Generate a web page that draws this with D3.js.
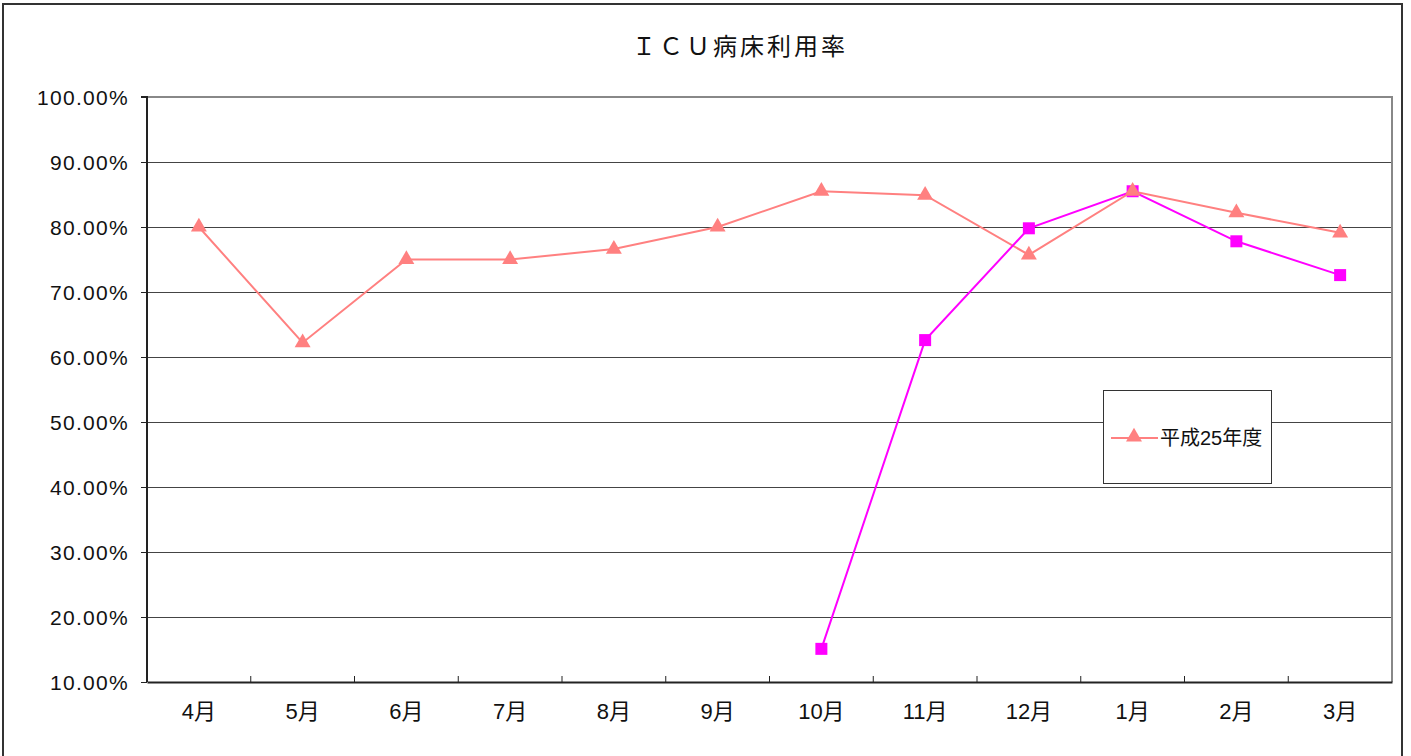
<!DOCTYPE html>
<html>
<head>
<meta charset="utf-8">
<script src="https://cdn.jsdelivr.net/npm/d3@7"></script>
<style>
  body { margin: 0; background: #fff; }
  svg { display: block; }
</style>
</head>
<body>
<svg id="chart" width="1411" height="756"></svg>
<script>
// chart data
var months = ["4月","5月","6月","7月","8月","9月","10月","11月","12月","1月","2月","3月"];
var h25 = [80.0, 62.2, 75.0, 75.0, 76.6, 80.0, 85.5, 84.9, 75.7, 85.5, 82.2, 79.1];
var h26 = [null, null, null, null, null, null, 15.1, 62.6, 79.8, 85.5, 77.8, 72.6];
var yTicks = [10,20,30,40,50,60,70,80,90,100];
var legendLabel = "平成25年度";
var title = "ＩＣＵ病床利用率";

(function(){
var svg = d3.select("#chart");
var jp = "'Liberation Sans', 'Noto Sans CJK JP', sans-serif";

// outer frame
svg.append("path")
  .attr("d", "M3,760 V4 H1402 V760")
  .attr("fill", "none").attr("stroke", "#333").attr("stroke-width", 2);

var pLeft = 147, pRight = 1392, pTop = 97, pBottom = 682;

var x = d3.scaleBand().domain(months).range([pLeft, pRight]);
var y = d3.scaleLinear().domain([10, 100]).range([pBottom, pTop]);

// gridlines
svg.append("g").selectAll("line").data(yTicks.slice(1, -1)).join("line")
  .attr("x1", pLeft).attr("x2", pRight)
  .attr("y1", function(d){ return y(d) + 0.5; }).attr("y2", function(d){ return y(d) + 0.5; })
  .attr("stroke", "#444").attr("stroke-width", 1);

// plot frame top/right (gray)
svg.append("path")
  .attr("d", "M" + pLeft + "," + pTop + " H" + pRight + " V" + pBottom)
  .attr("fill", "none").attr("stroke", "#888").attr("stroke-width", 2);

// y axis
var yAxis = svg.append("g")
  .attr("transform", "translate(" + pLeft + ",0)")
  .call(d3.axisLeft(y).tickValues(yTicks).tickSize(6).tickPadding(12)
    .tickFormat(function(d){ return d.toFixed(2) + "%"; }));
yAxis.select(".domain").attr("stroke", "#222").attr("stroke-width", 2).attr("d", "M-6," + pTop + "H0V" + pBottom);
yAxis.selectAll(".tick line").attr("stroke", "#222");
yAxis.selectAll("text")
  .attr("font-family", jp).attr("font-size", 21).attr("fill", "#111")
  .attr("dy", "0.36em")
  .attr("letter-spacing", 1.3);

// x axis
var xAxis = svg.append("g")
  .attr("transform", "translate(0," + pBottom + ")")
  .call(d3.axisBottom(x).tickSize(0).tickPadding(21));
xAxis.select(".domain").attr("stroke", "#222").attr("stroke-width", 2);
xAxis.selectAll("text").attr("font-family", jp).attr("font-size", 22).attr("fill", "#111");
// tick marks between categories
xAxis.append("g").selectAll("line").data(months.slice(1)).join("line")
  .attr("x1", function(d){ return x(d); }).attr("x2", function(d){ return x(d); })
  .attr("y1", 0).attr("y2", -6)
  .attr("stroke", "#222");

// title
svg.append("text")
  .attr("x", 740).attr("y", 55)
  .attr("text-anchor", "middle")
  .attr("font-family", "'Noto Sans CJK JP', sans-serif").attr("font-size", 24).attr("fill", "#111")
  .attr("letter-spacing", 3)
  .text(title);

var cx = function(i){ return x(months[i]) + x.bandwidth() / 2; };

var salmon = "#ff8080", magenta = "#ff00ff";
var line = d3.line()
  .defined(function(d){ return d != null; })
  .x(function(d, i){ return cx(i); })
  .y(function(d){ return y(d); });

svg.append("path").datum(h25)
  .attr("d", line).attr("fill", "none").attr("stroke", salmon).attr("stroke-width", 2);

svg.append("path").datum(h26)
  .attr("d", line).attr("fill", "none").attr("stroke", magenta).attr("stroke-width", 2);

var tri = d3.symbol().type(d3.symbolTriangle).size(110);

svg.append("g").selectAll("rect")
  .data(h26.map(function(v, i){ return {v: v, i: i}; }).filter(function(d){ return d.v != null; }))
  .join("rect")
  .attr("x", function(d){ return cx(d.i) - 6; })
  .attr("y", function(d){ return y(d.v) - 6; })
  .attr("width", 12).attr("height", 12)
  .attr("fill", magenta);

svg.append("g").selectAll("path")
  .data(h25).join("path")
  .attr("d", tri)
  .attr("transform", function(d, i){ return "translate(" + cx(i) + "," + y(d) + ")"; })
  .attr("fill", salmon);

// legend
var lg = svg.append("g").attr("transform", "translate(1103,390)");
lg.append("rect").attr("x", 0.5).attr("y", 0.5).attr("width", 168).attr("height", 93)
  .attr("fill", "#fff").attr("stroke", "#333").attr("stroke-width", 1);
lg.append("line").attr("x1", 8).attr("x2", 55).attr("y1", 48).attr("y2", 48)
  .attr("stroke", salmon).attr("stroke-width", 2);
lg.append("path").attr("d", tri).attr("transform", "translate(31,47)").attr("fill", salmon);
lg.append("text").attr("x", 57).attr("y", 55)
  .attr("font-family", jp).attr("font-size", 20).attr("fill", "#111")
  .text(legendLabel);
})();
</script>
</body>
</html>
